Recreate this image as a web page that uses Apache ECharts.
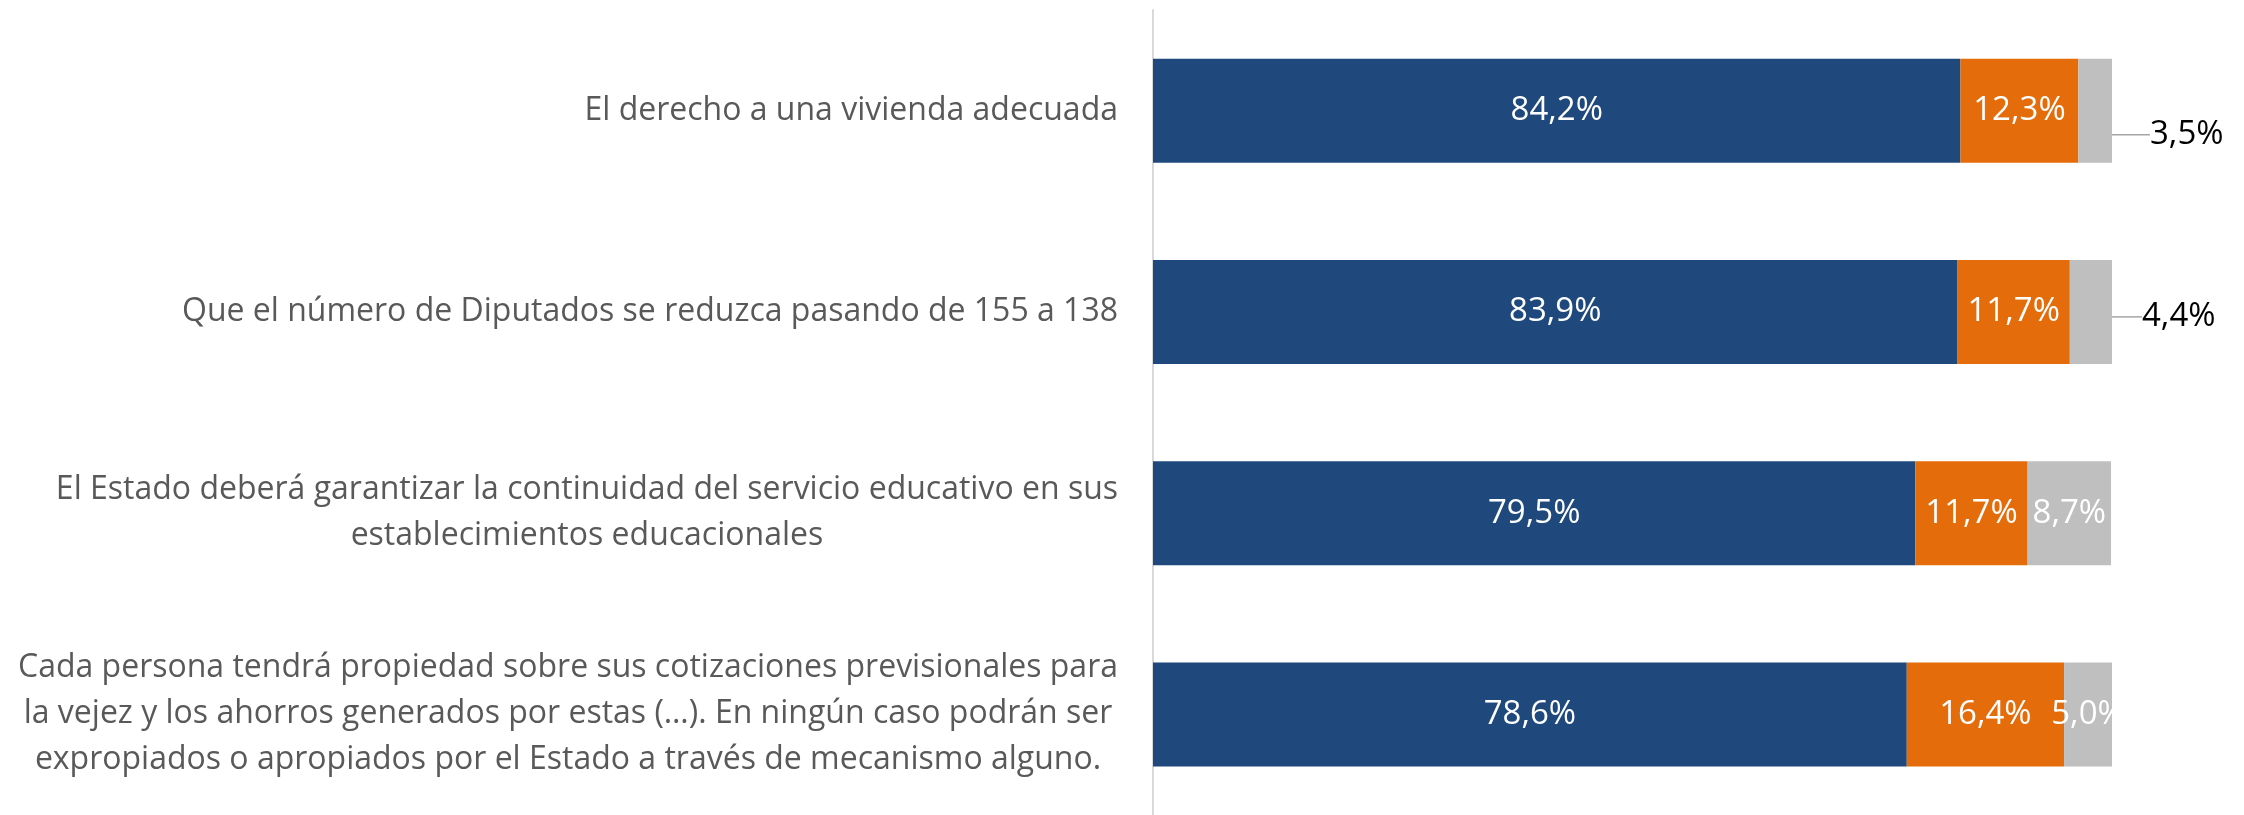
<!DOCTYPE html>
<html>
<head>
<meta charset="utf-8">
<script src="https://cdn.jsdelivr.net/npm/echarts@6/dist/echarts.min.js"></script>
<style>
  html, body { margin: 0; padding: 0; background: #fff; }
  #chart { width: 2244px; height: 815px; }
</style>
</head>
<body>
<div id="chart"></div>
<script>
// categorias (de arriba hacia abajo)
var categorias = [
  'El derecho a una vivienda adecuada',
  'Que el número de Diputados se reduzca pasando de 155 a 138',
  'El Estado deberá garantizar la continuidad del servicio educativo en sus\nestablecimientos educacionales',
  'Cada persona tendrá propiedad sobre sus cotizaciones previsionales para\nla vejez y los ahorros generados por estas (…). En ningún caso podrán ser\nexpropiados o apropiados por el Estado a través de mecanismo alguno.'
]
var deAcuerdo = [84.2, 83.9, 79.5, 78.6]
var enDesacuerdo = [12.3, 11.7, 11.7, 16.4]
var noSabe = [3.5, 4.4, 8.7, 5.0]

var fmt = function (v) {
  return v.toFixed(1).replace('.', ',') + '%'
}

var chart = echarts.init(document.getElementById('chart'))

var labelBase = {
  show: true,
  position: 'inside',
  color: '#fff',
  fontFamily: 'Open Sans',
  fontSize: 33,
  formatter: function (p) { return fmt(p.value) }
}

// las dos primeras etiquetas grises van afuera con linea guia
var noSabeData = noSabe.map(function (v, i) {
  if (i === 0) {
    return { value: v, label: { position: 'right', distance: 38, color: '#000' }, labelLine: { show: true } }
  }
  if (i === 1) {
    return { value: v, label: { position: 'right', distance: 30, color: '#000' }, labelLine: { show: true } }
  }
  return v
})

chart.setOption({
  animation: false,
  grid: {
    left: 1153,
    width: 959,
    top: 10,
    height: 812
  },
  xAxis: {
    type: 'value',
    min: 0,
    max: 100,
    show: false
  },
  yAxis: {
    type: 'category',
    inverse: true,
    data: categorias,
    axisTick: { show: false },
    axisLine: { show: true, lineStyle: { color: '#d9d9d9', width: 2 } },
    axisLabel: {
      margin: 35,
      align: 'right',
      color: '#595959',
      fontFamily: 'Open Sans',
      fontSize: 32,
      lineHeight: 46,
      formatter: function (val) {
        return val.split('\n').map(function (l) { return '{c|' + l + '}' }).join('\n')
      },
      rich: {
        c: {
          align: 'center',
          color: '#595959',
          fontFamily: 'Open Sans',
          fontSize: 32,
          lineHeight: 46
        }
      }
    }
  },
  series: [
    {
      name: 'De acuerdo',
      type: 'bar',
      stack: 'total',
      barWidth: 104,
      itemStyle: { color: '#1f497d' },
      label: labelBase,
      data: deAcuerdo
    },
    {
      name: 'En desacuerdo',
      type: 'bar',
      stack: 'total',
      barWidth: 104,
      itemStyle: { color: '#e46c0a' },
      label: labelBase,
      data: enDesacuerdo
    },
    {
      name: 'No sabe',
      type: 'bar',
      stack: 'total',
      barWidth: 104,
      itemStyle: { color: '#bfbfbf' },
      label: labelBase,
      labelLine: { lineStyle: { color: '#a6a6a6', width: 1.5 } },
      labelLayout: function (p) {
        if (p.dataIndex === 0) return { dy: 24 }
        if (p.dataIndex === 1) return { dy: 5 }
        return {}
      },
      data: noSabeData
    }
  ]
})
</script>
</body>
</html>
